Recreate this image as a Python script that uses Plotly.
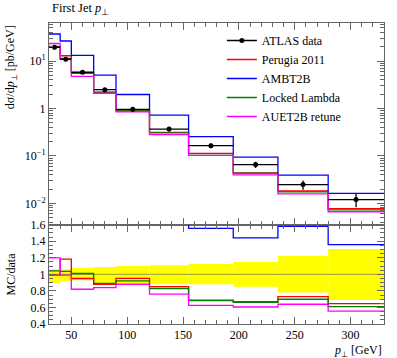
import plotly.graph_objects as go

# ---- data ----
bin_edges = [30, 40, 50, 70, 90, 120, 155, 195, 235, 280, 330]
atlas_data = [19.5, 10.9, 5.78, 2.49, 0.96, 0.368, 0.164, 0.0656, 0.0249, 0.012]
data_rel_up = [0.06, 0.06, 0.08, 0.09, 0.10, 0.11, 0.125, 0.15, 0.22, 0.305]
data_rel_dn = [0.105, 0.08, 0.07, 0.12, 0.11, 0.12, 0.12, 0.15, 0.22, 0.31]
perugia2011 = [19.3, 12.9, 5.49, 2.19, 0.912, 0.313, 0.113, 0.0440, 0.0182, 0.00774]
ambt2b = [37.1, 26.4, 13.1, 5.05, 1.97, 0.726, 0.255, 0.0945, 0.0393, 0.0163]
locked_lambda = [20.3, 11.3, 5.84, 2.22, 0.883, 0.305, 0.112, 0.0433, 0.0174, 0.00732]
auet2b = [23.4, 10.8, 4.74, 2.09, 0.845, 0.280, 0.1025, 0.0397, 0.0159, 0.00666]

FONT = "Liberation Serif"
centers = [(a + b) / 2 for a, b in zip(bin_edges[:-1], bin_edges[1:])]
halfw = [(b - a) / 2 for a, b in zip(bin_edges[:-1], bin_edges[1:])]
widths = [b - a for a, b in zip(bin_edges[:-1], bin_edges[1:])]
log_minor = [k * 10.0 ** e for e in range(-3, 2) for k in range(2, 10)]

fig = go.Figure()

# ratio band (data uncertainty)
fig.add_trace(go.Bar(
    x=centers, y=[u + d for u, d in zip(data_rel_up, data_rel_dn)],
    base=[1 - d for d in data_rel_dn], width=widths,
    marker=dict(color="#ffff00", line=dict(width=0)),
    xaxis="x2", yaxis="y2", showlegend=False, hoverinfo="skip"))
fig.add_trace(go.Scatter(
    x=[bin_edges[0], bin_edges[-1]], y=[1, 1], mode="lines",
    line=dict(color="#9c9c3a", width=1), xaxis="x2", yaxis="y2", showlegend=False))

# legend entry for data
fig.add_trace(go.Scatter(
    x=[None], y=[None], mode="lines+markers", name="ATLAS data",
    line=dict(color="black", width=1.3), marker=dict(color="black", size=5)))

models = [
    ("Perugia 2011", perugia2011, "#ff0000"),
    ("AMBT2B", ambt2b, "#0000ff"),
    ("Locked Lambda", locked_lambda, "#008000"),
    ("AUET2B retune", auet2b, "#ff00ff"),
]
for name, vals, col in models:
    fig.add_trace(go.Scatter(
        x=bin_edges, y=vals + [vals[-1]], mode="lines", line_shape="hv",
        name=name, line=dict(color=col, width=1.3), xaxis="x", yaxis="y"))
    ratio = [m / d for m, d in zip(vals, atlas_data)]
    fig.add_trace(go.Scatter(
        x=bin_edges, y=ratio + [ratio[-1]], mode="lines", line_shape="hv",
        line=dict(color=col, width=1.3), xaxis="x2", yaxis="y2", showlegend=False))

# data points
fig.add_trace(go.Scatter(
    x=centers, y=atlas_data, mode="markers", showlegend=False,
    marker=dict(color="black", size=5),
    error_x=dict(type="data", array=halfw, width=0, thickness=1.3, color="black"),
    error_y=dict(type="data", array=[v * u for v, u in zip(atlas_data, data_rel_up)],
                 arrayminus=[v * d for v, d in zip(atlas_data, data_rel_dn)],
                 width=0, thickness=1.3, color="black"),
    xaxis="x", yaxis="y"))

frame = dict(showline=True, linecolor="#666", linewidth=1, mirror="allticks",
             ticks="inside", tickcolor="#666", showgrid=False, zeroline=False)
split = 0.330
fig.update_layout(
    width=397, height=358,
    margin=dict(l=49, r=13, t=23, b=34),
    paper_bgcolor="white", plot_bgcolor="white",
    font=dict(family=FONT, size=12, color="black"),
    barmode="overlay",
    xaxis=dict(domain=[0, 1], anchor="y", range=[30, 330], showticklabels=False,
               dtick=50, tick0=0, ticklen=7,
               minor=dict(ticks="inside", dtick=10, ticklen=4, tickcolor="#666"), **frame),
    yaxis=dict(domain=[split, 1], anchor="x", type="log", range=[-2.449, 1.801],
               tickvals=[0.01, 0.1, 1, 10],
               ticktext=["10<sup>−2</sup>", "10<sup>−1</sup>", "1", "10<sup>1</sup>"],
               ticklen=7,
               minor=dict(ticks="inside", tickmode="array", tickvals=log_minor,
                          ticklen=4, tickcolor="#666"), **frame),
    xaxis2=dict(domain=[0, 1], anchor="y2", range=[30, 330], dtick=50, tick0=0,
                ticklen=7, minor=dict(ticks="inside", dtick=10, ticklen=4, tickcolor="#666"),
                **frame),
    yaxis2=dict(domain=[0, split], anchor="x2", range=[0.4, 1.6],
                tickvals=[0.4, 0.6, 0.8, 1.0, 1.2, 1.4, 1.6],
                ticktext=["0.4", "0.6", "0.8", "1", "1.2", "1.4", "1.6"],
                ticklen=7, minor=dict(ticks="inside", dtick=0.05, ticklen=4, tickcolor="#666"),
                **frame),
    legend=dict(x=0.516, y=0.99, xanchor="left", yanchor="top",
                bgcolor="rgba(0,0,0,0)", font=dict(size=12, family=FONT),
                tracegroupgap=0),
    annotations=[
        dict(text="First Jet <i>p</i><sub>⊥</sub>", xref="paper", yref="paper",
             x=0.003, y=1.0465, xanchor="left", yanchor="middle", showarrow=False,
             font=dict(size=12.5)),
        dict(text="dσ/d<i>p</i><sub>⊥</sub> [pb/GeV]", xref="paper", yref="paper",
             x=-0.113, y=1.0, xanchor="center", yanchor="top", textangle=-90,
             showarrow=False, font=dict(size=12)),
        dict(text="MC/data", xref="paper", yref="paper", x=-0.113, y=split / 2,
             xanchor="center", yanchor="middle", textangle=-90, showarrow=False,
             font=dict(size=12)),
        dict(text="<i>p</i><sub>⊥</sub> [GeV]", xref="paper", yref="paper",
             x=1.0, y=-0.0575, xanchor="right", yanchor="top", showarrow=False,
             font=dict(size=12)),
    ],
)

fig.write_html("out.html", post_script="document.body.style.margin='0';",
               config={"displayModeBar": False})
